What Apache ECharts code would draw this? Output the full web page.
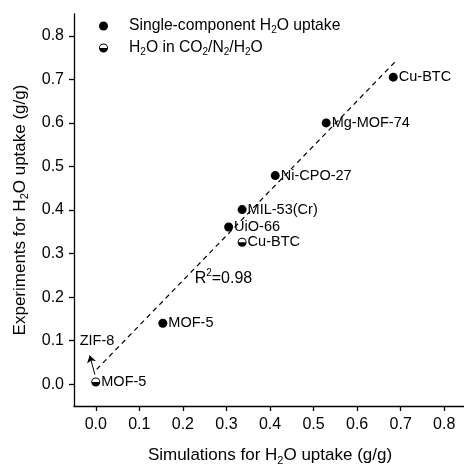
<!DOCTYPE html>
<html>
<head>
<meta charset="utf-8">
<script src="https://cdn.jsdelivr.net/npm/echarts@6/dist/echarts.min.js"></script>
<style>
    html, body { margin: 0; padding: 0; background: #fff; }
    #chart { width: 464px; height: 464px; }
</style>
</head>
<body>
<div id="chart"></div>
<script>
// single-component H2O uptake (filled dots)
const singleNames = ['Cu-BTC', 'Mg-MOF-74', 'Ni-CPO-27', 'MIL-53(Cr)', 'UiO-66', 'MOF-5']
const singleSim = [0.683, 0.529, 0.412, 0.336, 0.305, 0.154]
const singleExp = [0.705, 0.600, 0.479, 0.401, 0.361, 0.140]

// H2O in CO2/N2/H2O (half filled dots)
const mixNames = ['Cu-BTC', 'MOF-5']
const mixSim = [0.336, 0.0]
const mixExp = [0.326, 0.005]

// dashed fit line ends
const fitX = [0.002, 0.688]
const fitY = [0.034, 0.741]

// ZIF-8 arrow (from, to) and labels
const arrowX = [-0.002, -0.014]
const arrowY = [0.022, 0.066]
const notes = ['{n|ZIF-8}', '{r|R}{sup|2}{r|=0.98}']
const noteX = [-0.037, 0.227]
const noteY = [0.099, 0.243]

const xTicks = [0.0, 0.1, 0.2, 0.3, 0.4, 0.5, 0.6, 0.7, 0.8]
const yTicks = [0.0, 0.1, 0.2, 0.3, 0.4, 0.5, 0.6, 0.7, 0.8]

const FONT = 'Liberation Sans'
// circle outline + lower half filled
const halfDot = 'path://M5,0A5,5 0 1,1 5,10A5,5 0 1,1 5,0ZM5,1A4,4 0 1,0 5,9A4,4 0 1,0 5,1ZM1,5A4,4 0 0,0 9,5Z'

const subRich = (size, lh) => ({
    n: { fontFamily: FONT, fontSize: size, color: '#000', lineHeight: lh },
    s: { fontFamily: FONT, fontSize: Math.round(size * 0.65), color: '#000', lineHeight: Math.round(size * 0.65), verticalAlign: 'bottom' },
    gap: { width: 16, lineHeight: lh }
})

const noteRich = Object.assign(subRich(14.5, 18), {
    r: { fontFamily: FONT, fontSize: 16, color: '#000', lineHeight: 20 },
    sup: { fontFamily: FONT, fontSize: 10, color: '#000', lineHeight: 10, verticalAlign: 'top' }
})

const legendText = {
    'Single-component H2O uptake': '{gap|}{n|Single-component H}{s|2}{n|O uptake}',
    'H2O in CO2/N2/H2O': '{gap|}{n|H}{s|2}{n|O in CO}{s|2}{n|/N}{s|2}{n|/H}{s|2}{n|O}'
}

const axisCommon = {
    type: 'value',
    min: -0.05,
    max: 0.85,
    axisLine: { show: true, onZero: false, lineStyle: { color: '#000', width: 1.3 } },
    splitLine: { show: false },
    nameLocation: 'middle'
}

const chart = echarts.init(document.getElementById('chart'))
chart.setOption({
    animation: false,
    backgroundColor: '#fff',
    // fixed plot box, don't let labels push it around
    grid: { left: 74, top: 14, width: 392, height: 392, containLabel: false, outerBoundsMode: 'none' },
    legend: {
        orient: 'vertical',
        left: 94,
        top: 13,
        itemWidth: 9,
        itemHeight: 9,
        itemGap: 5,
        data: ['Single-component H2O uptake', 'H2O in CO2/N2/H2O'],
        formatter: name => legendText[name],
        textStyle: { rich: subRich(15.7, 18) }
    },
    xAxis: Object.assign({}, axisCommon, {
        name: '{n|Simulations for H}{s|2}{n|O uptake (g/g)}',
        nameGap: 38,
        nameTextStyle: { rich: subRich(17, 22) },
        axisTick: { show: true, inside: false, length: 5, customValues: xTicks, lineStyle: { color: '#000', width: 1.3 } },
        axisLabel: {
            customValues: xTicks,
            margin: 11,
            fontFamily: FONT,
            fontSize: 16,
            color: '#000',
            formatter: v => v.toFixed(1)
        }
    }),
    yAxis: Object.assign({}, axisCommon, {
        name: '{n|Experiments for H}{s|2}{n|O uptake (g/g)}',
        nameRotate: 90,
        nameGap: 42,
        nameTextStyle: { rich: subRich(17, 22) },
        axisTick: { show: true, inside: false, length: 5, customValues: yTicks, lineStyle: { color: '#000', width: 1.3 } },
        axisLabel: {
            customValues: yTicks,
            margin: 10,
            fontFamily: FONT,
            fontSize: 16,
            color: '#000',
            formatter: v => v.toFixed(1)
        }
    }),
    series: [
        {
            // fitted line + ZIF-8 arrow
            type: 'line',
            data: fitX.map((x, i) => [x, fitY[i]]),
            symbol: 'none',
            lineStyle: { color: '#000', width: 1.2, type: [5, 4] },
            silent: true,
            z: 1,
            markLine: {
                silent: true,
                symbol: ['none', 'arrow'],
                symbolSize: 7,
                label: { show: false },
                lineStyle: { color: '#000', width: 1, type: 'solid' },
                data: [[{ coord: [arrowX[0], arrowY[0]] }, { coord: [arrowX[1], arrowY[1]] }]]
            }
        },
        {
            name: 'Single-component H2O uptake',
            type: 'scatter',
            data: singleSim.map((x, i) => [x, singleExp[i]]),
            symbol: 'circle',
            symbolSize: 9,
            itemStyle: { color: '#000', opacity: 1 },
            z: 3,
            label: {
                show: true,
                position: 'right',
                distance: 1,
                fontFamily: FONT,
                fontSize: 14.5,
                color: '#000',
                formatter: p => singleNames[p.dataIndex]
            }
        },
        {
            name: 'H2O in CO2/N2/H2O',
            type: 'scatter',
            data: mixSim.map((x, i) => [x, mixExp[i]]),
            symbol: halfDot,
            symbolSize: 9,
            symbolKeepAspect: true,
            itemStyle: { color: '#000', opacity: 1 },
            z: 3,
            label: {
                show: true,
                position: 'right',
                distance: 1,
                fontFamily: FONT,
                fontSize: 14.5,
                color: '#000',
                formatter: p => mixNames[p.dataIndex]
            }
        },
        {
            // text notes
            type: 'scatter',
            data: noteX.map((x, i) => [x, noteY[i]]),
            symbolSize: 0,
            silent: true,
            itemStyle: { color: '#000', opacity: 1 },
            label: {
                show: true,
                position: 'right',
                distance: 0,
                formatter: p => notes[p.dataIndex],
                rich: noteRich
            }
        }
    ]
})
</script>
</body>
</html>
